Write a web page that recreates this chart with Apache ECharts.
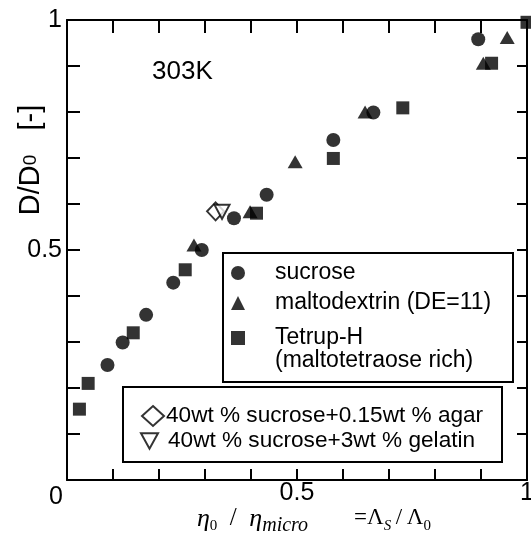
<!DOCTYPE html>
<html>
<head>
<meta charset="utf-8">
<script src="https://cdn.jsdelivr.net/npm/echarts@6/dist/echarts.min.js"></script>
<style>html,body{margin:0;padding:0;background:#fff;}#c{width:531px;height:534px;}</style>
</head>
<body>
<div id="c"></div>
<script>
// ---- data ----
const sucrose = [[0.088,0.250],[0.121,0.299],[0.172,0.359],[0.231,0.429],[0.293,0.500],[0.363,0.569],[0.434,0.620],[0.579,0.739],[0.666,0.799],[0.894,0.958]];
const maltodextrin = [[0.276,0.511],[0.398,0.583],[0.496,0.692],[0.648,0.800],[0.905,0.906],[0.957,0.962]];
const tetrup = [[0.027,0.154],[0.046,0.210],[0.144,0.320],[0.257,0.457],[0.412,0.580],[0.579,0.699],[0.730,0.809],[0.923,0.906],[1.0,0.995]];
const agar = [[0.323,0.584]];
const gelatin = [[0.337,0.583]];
const xLabeled = [0, 0.5, 1];
const yLabeled = [0.5, 1];
const seriesNames = ['sucrose','maltodextrin (DE=11)','Tetrup-H','40wt % sucrose+0.15wt % agar','40wt % sucrose+3wt % gelatin'];

const F = 'Liberation Sans, Arial, sans-serif';
const near = (v, arr) => arr.find(a => Math.abs(a - v) < 1e-6);
const downTri = 'path://M0,0 L20,0 L10,18 Z';

const chart = echarts.init(document.getElementById('c'), null, {renderer:'canvas'});
const axisLine = {show:true, onZero:false, lineStyle:{color:'#000', width:2}};
const tick = (len) => ({show:true, inside:true, length:len, lineStyle:{color:'#000', width:2}});

function legendItem(name, left, top, extra) {
  return Object.assign({
    data:[name], orient:'vertical', left:left, top:top, padding:0,
    itemWidth:14, itemHeight:14, selectedMode:false,
    textStyle:{fontFamily:F, fontSize:23, color:'#000', lineHeight:23, padding:[0,0,0,25]}
  }, extra || {});
}

const option = {
  animation:false,
  backgroundColor:'#fff',
  grid:{left:67, right:4, top:20, bottom:54, containLabel:false, outerBoundsMode:'none'},
  title:{text:'303K', left:152, top:59, padding:0, textStyle:{fontFamily:F, fontSize:26, fontWeight:'normal', color:'#000'}},
  xAxis:[{
    type:'value', min:0, max:1, interval:0.1, position:'bottom',
    axisLine:axisLine, axisTick:tick(11), splitLine:{show:false},
    axisLabel:{show:true, margin:1, fontFamily:F, fontSize:25, color:'#000', hideOverlap:false,
      formatter:v => { const m = near(v, xLabeled); if (m === undefined) return ''; return m === 0 ? '{z|0}' : String(m); },
      rich:{z:{fontFamily:F, fontSize:25, color:'#000', padding:[4,22,0,0]}}},
    name:'{it|η}{sub|0}{n|  /  }{it|η}{subm|micro}{g| }{r|=Λ}{subi|S}{r|\u2009/\u2009Λ}{sub|0}',
    nameLocation:'middle', nameGap:26, nameMoveOverlap:false,
    nameTextStyle:{padding:[0,0,0,34], rich:{
      it:{fontFamily:'Liberation Serif', fontStyle:'italic', fontSize:26, color:'#000', lineHeight:24, verticalAlign:'top'},
      n:{fontFamily:'Liberation Serif', fontSize:25, color:'#000', lineHeight:24, verticalAlign:'top'},
      g:{fontFamily:'Liberation Serif', fontSize:25, color:'#000', lineHeight:24, verticalAlign:'top', width:46},
      r:{fontFamily:'Liberation Serif', fontSize:23, color:'#000', lineHeight:24, verticalAlign:'top'},
      sub:{fontFamily:'Liberation Serif', fontSize:15, color:'#000', lineHeight:38},
      subi:{fontFamily:'Liberation Serif', fontStyle:'italic', fontSize:15, color:'#000', lineHeight:38},
      subm:{fontFamily:'Liberation Serif', fontStyle:'italic', fontSize:20, color:'#000', lineHeight:40}
    }}
  },{
    type:'value', min:0, max:1, interval:0.1, position:'top',
    axisLine:axisLine, axisTick:tick(13), axisLabel:{show:false}, splitLine:{show:false}
  }],
  yAxis:[{
    type:'value', min:0, max:1, interval:0.1, position:'left',
    axisLine:axisLine, axisTick:tick(13), splitLine:{show:false},
    axisLabel:{show:true, margin:5, fontFamily:F, fontSize:25, color:'#000', hideOverlap:false,
      formatter:v => { const m = near(v, yLabeled); return m === undefined ? '' : String(m); }}
  },{
    type:'value', min:0, max:1, interval:0.1, position:'right',
    axisLine:axisLine, axisTick:tick(10), axisLabel:{show:false}, splitLine:{show:false}
  }],
  legend:[
    legendItem(seriesNames[0], 231, 261.5),
    legendItem(seriesNames[1], 231, 291.5),
    legendItem(seriesNames[2], 231, 303.5, {
      formatter:() => '\nTetrup-H\n(maltotetraose rich)'
    }),
    legendItem(seriesNames[3], 141, 404.5, {itemWidth:22, itemHeight:20,
      textStyle:{fontFamily:F, fontSize:22.6, color:'#000', lineHeight:23, padding:[0,0,0,-3]}}),
    legendItem(seriesNames[4], 140, 429.5, {itemWidth:17, itemHeight:16,
      textStyle:{fontFamily:F, fontSize:22.6, color:'#000', lineHeight:23, padding:[0,0,0,5]}})
  ],
  graphic:[
    {type:'rect', z:1, shape:{x:223, y:253, width:290, height:129}, style:{fill:'#fff', stroke:'#000', lineWidth:2}},
    {type:'rect', z:1, shape:{x:123, y:387, width:379, height:75}, style:{fill:'#fff', stroke:'#000', lineWidth:2}},
    {type:'text', z:5, x:31, y:160, rotation:Math.PI/2,
      style:{text:'D/D{sub|0}   [-]', fontFamily:F, fontSize:29, fill:'#000', align:'center', verticalAlign:'middle',
        rich:{sub:{fontFamily:F, fontSize:19, fill:'#000', lineHeight:44}}}}
  ],
  series:[
    {name:seriesNames[0], type:'scatter', data:sucrose, symbol:'circle', symbolSize:14, clip:false, itemStyle:{color:'#000'}, z:3},
    {name:seriesNames[1], type:'scatter', data:maltodextrin, symbol:'triangle', symbolSize:[15,13], clip:false, itemStyle:{color:'#000'}, z:3},
    {name:seriesNames[2], type:'scatter', data:tetrup, symbol:'rect', symbolSize:13, clip:false, itemStyle:{color:'#000'}, z:3},
    {name:seriesNames[3], type:'scatter', data:agar, symbol:'diamond', symbolSize:[17,18], clip:false, itemStyle:{color:'#fff', borderColor:'#000', borderWidth:2}, z:4},
    {name:seriesNames[4], type:'scatter', data:gelatin, symbol:downTri, symbolSize:[15,14], clip:false, itemStyle:{color:'#fff', borderColor:'#000', borderWidth:2}, z:4}
  ]
};
chart.setOption(option);
</script>
</body>
</html>
